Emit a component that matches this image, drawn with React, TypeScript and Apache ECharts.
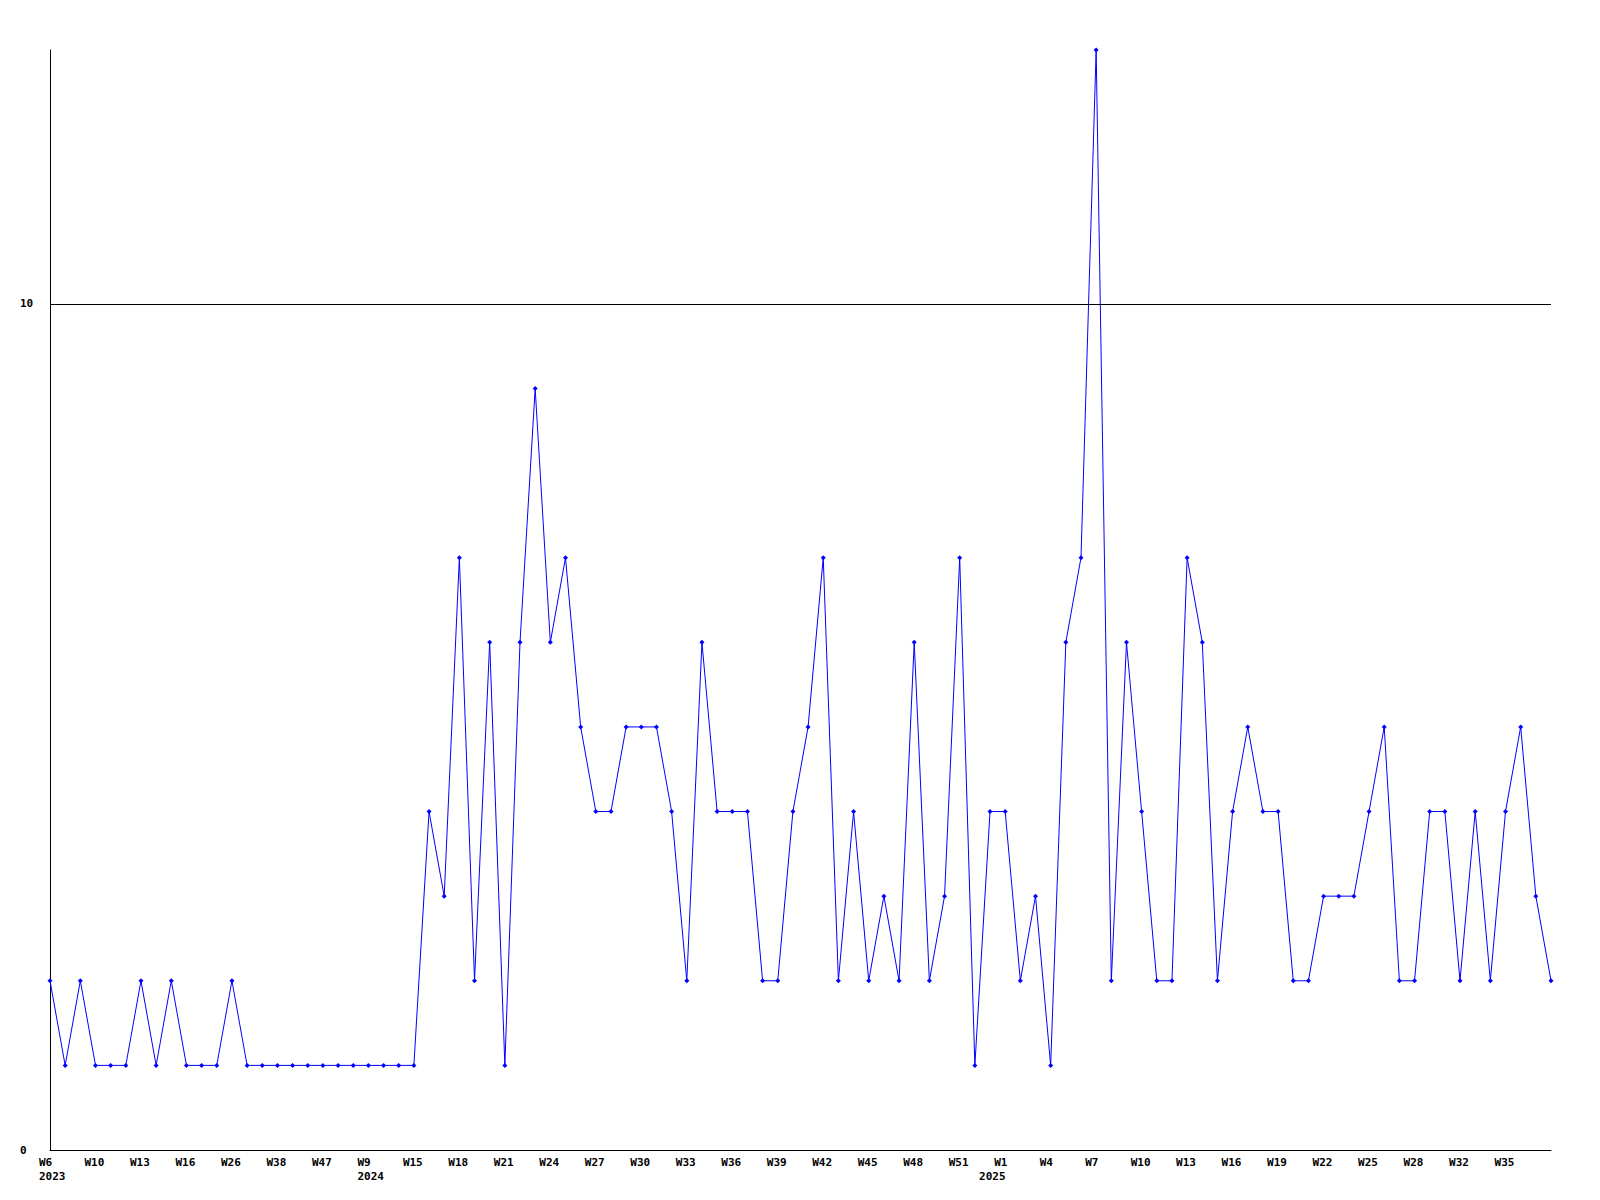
import React, { useEffect, useRef } from "react";
import * as echarts from "echarts";

const years: number[] = [
  2023, 2023, 2023, 2023, 2023, 2023, 2023, 2023, 2023, 2023, 2023, 2023, 2023, 2023, 2023, 2023, 2023, 2023, 2023, 2023, 2023,
  2024, 2024, 2024, 2024, 2024, 2024, 2024, 2024, 2024, 2024, 2024, 2024, 2024, 2024, 2024, 2024, 2024, 2024, 2024, 2024,
  2024, 2024, 2024, 2024, 2024, 2024, 2024, 2024, 2024, 2024, 2024, 2024, 2024, 2024, 2024, 2024, 2024, 2024, 2024, 2024, 2024,
  2025, 2025, 2025, 2025, 2025, 2025, 2025, 2025, 2025, 2025, 2025, 2025, 2025, 2025, 2025, 2025, 2025, 2025, 2025, 2025, 2025,
  2025, 2025, 2025, 2025, 2025, 2025, 2025, 2025, 2025, 2025, 2025, 2025, 2025, 2025, 2025, 2025, 2025,
];

const weeks: number[] = [
  6, 7, 9, 10, 11, 12, 13, 14, 15, 16, 19, 22, 26, 29, 34, 38, 41, 44, 47, 49, 51,
  9, 11, 13, 15, 16, 17, 18, 19, 20, 21, 22, 23, 24, 25, 26, 27, 28, 29, 30, 31,
  32, 33, 34, 35, 36, 37, 38, 39, 40, 41, 42, 43, 44, 45, 46, 47, 48, 49, 50, 51, 52,
  0, 1, 2, 3, 4, 5, 6, 7, 8, 9, 10, 11, 12, 13, 14, 15, 16, 17, 18, 19, 20, 21, 22, 23, 24, 25, 26, 27, 28,
  29, 31, 32, 33, 34, 35, 36, 37, 38,
];

const values: number[] = [
  2, 1, 2, 1, 1, 1, 2, 1, 2, 1, 1, 1, 2, 1, 1, 1, 1, 1, 1, 1, 1,
  1, 1, 1, 1, 4, 3, 7, 2, 6, 1, 6, 9, 6, 7, 5, 4, 4, 5, 5, 5,
  4, 2, 6, 4, 4, 4, 2, 2, 4, 5, 7, 2, 4, 2, 3, 2, 6, 2, 3, 7, 1, 4,
  4, 2, 3, 1, 6, 7, 13, 2, 6, 4, 2, 2, 7, 6, 2, 4, 5, 4, 4, 2, 2, 3, 3, 3, 4, 5, 2, 2,
  4, 4, 2, 4, 2, 4, 5, 3, 2,
];

const yLabels: number[] = [0, 10];

export default function App() {
  const ref = useRef<HTMLDivElement>(null);
  useEffect(() => {
    const chart = echarts.init(ref.current as HTMLDivElement, null, { renderer: "svg" });
    const categories = weeks.map((w, i) => `${years[i]}-W${w}`);
    const last = categories.length - 1;
    const font = "'DejaVu Sans Mono', monospace";
    const txt = { fontFamily: font, fontSize: 11, fontWeight: "bold", color: "#000000", lineHeight: 15 };
    chart.setOption({
      animation: false,
      backgroundColor: "#ffffff",
      grid: { left: 50, right: 49, top: 50, bottom: 50, containLabel: false },
      xAxis: [
        {
          type: "category",
          data: categories,
          boundaryGap: false,
          axisLine: { show: true, lineStyle: { color: "#000000", width: 1 } },
          axisTick: { show: false },
          splitLine: { show: false },
          axisLabel: {
            interval: (i: number) => i % 3 === 0 && i < last - 2,
            margin: 5,
            align: "center",
            formatter: (_v: string, i: number) => `{w|W${weeks[i]}}`,
            rich: { w: { ...txt, width: 22, align: "left" } },
          },
        },
        {
          type: "category",
          data: categories,
          boundaryGap: false,
          position: "bottom",
          axisLine: { show: false },
          axisTick: { show: false },
          splitLine: { show: false },
          axisLabel: {
            interval: (i: number) => i === 0 || years[i] !== years[i - 1],
            margin: 19,
            align: "center",
            formatter: (_v: string, i: number) => `{y|${years[i]}}`,
            rich: { y: { ...txt, width: 22, align: "left" } },
          },
        },
      ],
      yAxis: {
        type: "value",
        min: 0,
        max: 13,
        interval: 10,
        axisLine: { show: true, lineStyle: { color: "#000000", width: 1 } },
        axisTick: { show: false },
        splitLine: { show: false },
        axisLabel: {
          align: "left",
          margin: 30,
          fontFamily: font,
          fontSize: 11,
          fontWeight: "bold",
          color: "#000000",
          formatter: (v: number) => (yLabels.includes(v) ? String(v) : ""),
        },
      },
      series: [
        {
          type: "line",
          xAxisIndex: 0,
          data: values,
          symbol: "diamond",
          symbolSize: 5,
          showAllSymbol: true,
          itemStyle: { color: "#0000ff" },
          lineStyle: { color: "#0000ff", width: 1 },
          markLine: {
            silent: true,
            symbol: ["none", "none"],
            label: { show: false },
            lineStyle: { color: "#000000", type: "solid", width: 1 },
            data: [{ yAxis: 10 }],
          },
        },
      ],
    });
    return () => chart.dispose();
  }, []);
  return (
    <div
      ref={ref}
      style={{ position: "absolute", left: 0, top: 0, width: 1600, height: 1200 }}
    />
  );
}
